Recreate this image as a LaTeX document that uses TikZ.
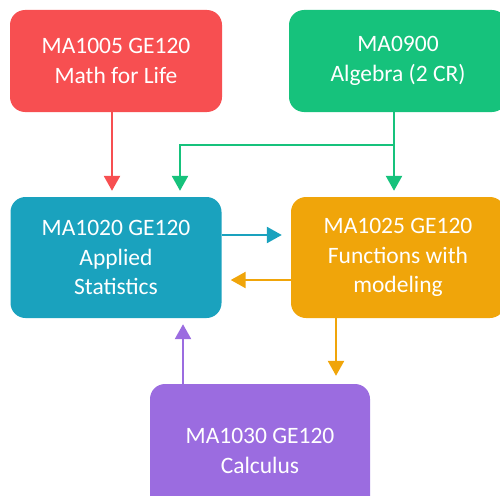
\documentclass[tikz,border=0pt]{standalone}
\usepackage{fontspec}
\setmainfont{Carlito}
\usetikzlibrary{arrows.meta}
\definecolor{cred}{RGB}{247,79,81}
\definecolor{cgreen}{RGB}{22,194,124}
\definecolor{cteal}{RGB}{26,162,190}
\definecolor{corange}{RGB}{240,165,10}
\definecolor{cpurple}{RGB}{155,108,224}
\tikzset{
  box/.style={rectangle, rounded corners=15pt, text=white, align=center,
    font=\fontsize{23.5pt}{29.5pt}\selectfont, inner sep=0pt},
  arr/.style={line width=2.5pt, -{Triangle[width=16pt,length=15pt]}},
  seg/.style={line width=2.5pt}
}
\begin{document}
\begin{tikzpicture}[x=1pt,y=-1pt]
\useasboundingbox (0,0) rectangle (500,495);
\begin{scope}
\clip (0,0) rectangle (500,495);
\node[box, fill=cred, minimum width=212pt, minimum height=102pt] (red) at (116,61) {MA1005 GE120\\Math for Life};
\node[box, fill=cgreen, minimum width=218pt, minimum height=102pt] (green) at (398,61) {MA0900\\Algebra (2 CR)};
\node[box, fill=cteal, minimum width=211pt, minimum height=121pt] (teal) at (116,257.5) {MA1020 GE120\\Applied\\Statistics};
\node[box, fill=corange, minimum width=214pt, minimum height=121pt] (orange) at (398,257.5) {MA1025 GE120\\Functions with\\modeling};
\node[box, fill=cpurple, minimum width=220pt, minimum height=134pt] (purple) at (260,451) {MA1030 GE120\\Calculus};
\end{scope}
\coordinate (gb) at (394,145);
\draw[arr, cred, shorten >=6pt] (red.south -| 112,0) -- (teal.north -| 112,0);
\draw[arr, cgreen, shorten >=6pt] (green.south -| 394,0) -- (orange.north -| 394,0);
\draw[arr, cgreen, shorten >=6pt] (gb) -- (180,145) -- (teal.north -| 180,0);
\draw[arr, cteal, shorten >=9pt] (teal.east |- 0,235) -- (orange.west |- 0,235);
\draw[arr, corange, shorten >=9pt] (orange.west |- 0,280) -- (teal.east |- 0,280);
\draw[arr, cpurple, shorten >=6pt] (purple.north -| 183,0) -- (teal.south -| 183,0);
\draw[arr, corange, shorten >=8pt] (orange.south -| 336,0) -- (purple.north -| 336,0);
\end{tikzpicture}
\end{document}
